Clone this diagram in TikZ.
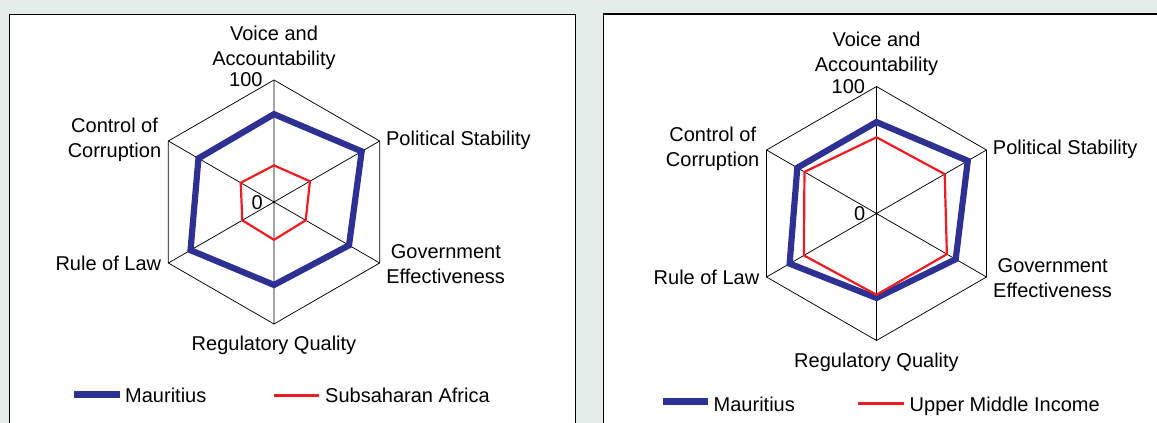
\documentclass[tikz,border=0pt]{standalone}
\usepackage{fontspec}
\setmainfont{Liberation Sans}
\usetikzlibrary{calc}
\definecolor{bgcol}{RGB}{228,237,234}
\definecolor{maublue}{RGB}{46,49,146}
\definecolor{cmpred}{RGB}{237,28,36}
\tikzset{
  gridline/.style={draw=black,line width=0.75pt},
  mau/.style={draw=maublue,line width=6.2pt,line join=miter},
  cmp/.style={draw=cmpred,line width=2.2pt,line join=miter},
  maulegend/.style={draw=maublue,line width=6.5pt},
  cmplegend/.style={draw=cmpred,line width=2.6pt},
  lbl/.style={inner sep=0pt,font=\fontsize{20}{24.6}\selectfont},
  panel/.style={fill=white,draw=black,line width=1.3pt}
}
% #1 prefix, #2 cx, #3 cy, #4 radius
\newcommand\radargrid[4]{%
  \coordinate (#1c) at (#2,#3);
  \begin{scope}[shift={(#2,#3)},yscale=-1]
    \coordinate (#1va) at (90:#4);
    \coordinate (#1ps) at (30:#4);
    \coordinate (#1ge) at (-30:#4);
    \coordinate (#1rq) at (-90:#4);
    \coordinate (#1rl) at (210:#4);
    \coordinate (#1cc) at (150:#4);
  \end{scope}
  \draw[gridline] (#1va) -- (#1ps) -- (#1ge) -- (#1rq) -- (#1rl) -- (#1cc) -- cycle;
  \draw[gridline] (#1va) -- (#1rq) (#1ps) -- (#1rl) (#1ge) -- (#1cc);
  \node[lbl,anchor=base] (#1tva1) at ($(#1va)+(0,-39.6)$) {Voice and};
  \node[lbl,anchor=base] (#1tva2) at ($(#1va)+(0,-15)$) {Accountability};
  \node[lbl,anchor=base east] (#1hundred) at ($(#1va)+(-11.2,6.7)$) {100};
  \node[lbl,anchor=base east] (#1zero) at ($(#1c)+(-11,7)$) {0};
  \node[lbl,anchor=base west] (#1tps) at ($(#1ps)+(6.3,4.6)$) {Political Stability};
  \node[lbl,anchor=base west,xshift=4.5pt] (#1tge1) at ($(#1ge)+(6.5,-5)$) {Government};
  \node[lbl,anchor=base west] (#1tge2) at ($(#1ge)+(6.5,20)$) {Effectiveness};
  \node[lbl,anchor=base] (#1trq) at ($(#1rq)+(0,26.5)$) {Regulatory Quality};
  \node[lbl,anchor=base east] (#1trl) at ($(#1rl)+(-7,7.8)$) {Rule of Law};
  \node[lbl,anchor=base east,xshift=-3.2pt] (#1tcc1) at ($(#1cc)+(-7,-8.3)$) {Control of};
  \node[lbl,anchor=base east] (#1tcc2) at ($(#1cc)+(-7,16.5)$) {Corruption};
}
% #1 prefix, #2 style, #3..#8 values
\newcommand\radarpoly[8]{%
  \draw[#2] ($(#1c)!#3!(#1va)$) -- ($(#1c)!#4!(#1ps)$) -- ($(#1c)!#5!(#1ge)$)
    -- ($(#1c)!#6!(#1rq)$) -- ($(#1c)!#7!(#1rl)$) -- ($(#1c)!#8!(#1cc)$) -- cycle;
}
\begin{document}
\begin{tikzpicture}[x=1pt,y=-1pt]
  \useasboundingbox (0,0) rectangle (1157,423);
  \fill[bgcol] (0,0) rectangle (1157,423);
  % panels
  \draw[panel] (9.3,440) -- (9.3,14.3) -- (575.7,14.3) -- (575.7,440);
  \draw[panel] (603.3,440) -- (603.3,14) -- (1175,14) -- (1175,440);
  % left chart
  \radargrid{L}{274}{202}{122}
  \radarpoly{L}{mau}{0.72}{0.83}{0.71}{0.68}{0.79}{0.715}
  \radarpoly{L}{cmp}{0.30}{0.34}{0.30}{0.31}{0.30}{0.315}
  % right chart
  \radargrid{R}{876.5}{213.5}{127}
  \radarpoly{R}{mau}{0.72}{0.83}{0.72}{0.665}{0.79}{0.72}
  \radarpoly{R}{cmp}{0.60}{0.62}{0.64}{0.64}{0.66}{0.655}
  % legends
  \coordinate (LmauA) at (74,394.5);
  \coordinate (LmauB) at (120,394.5);
  \draw[maulegend] (LmauA) -- (LmauB);
  \node[lbl,anchor=base west] (Lmaut) at (125,402.7) {Mauritius};
  \coordinate (LcmpA) at (274,395.7);
  \coordinate (LcmpB) at (319,395.7);
  \draw[cmplegend] (LcmpA) -- (LcmpB);
  \node[lbl,anchor=base west] (Lcmpt) at (325,402.7) {Subsaharan Africa};
  \coordinate (RmauA) at (662.7,401.5);
  \coordinate (RmauB) at (707.7,401.5);
  \draw[maulegend] (RmauA) -- (RmauB);
  \node[lbl,anchor=base west] (Rmaut) at (713.5,411.3) {Mauritius};
  \coordinate (RcmpA) at (857.5,403.5);
  \coordinate (RcmpB) at (903.5,403.5);
  \draw[cmplegend] (RcmpA) -- (RcmpB);
  \node[lbl,anchor=base west] (Rcmpt) at (909.5,411.3) {Upper Middle Income};
\end{tikzpicture}
\end{document}
